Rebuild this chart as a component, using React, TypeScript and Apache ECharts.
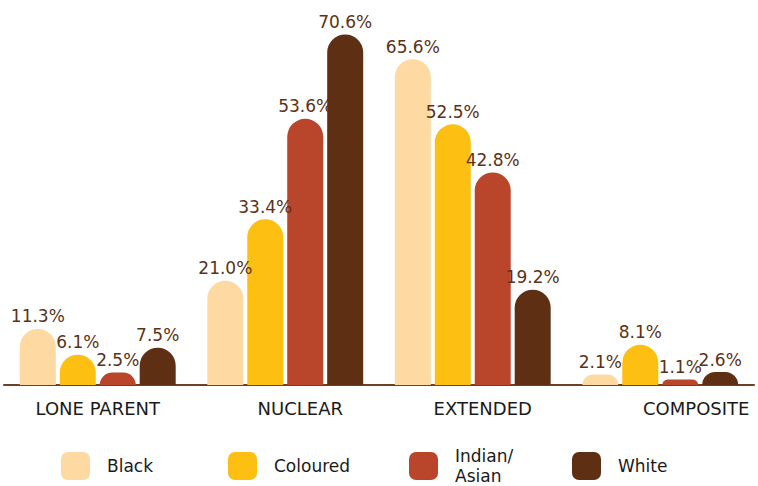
import React, { useEffect, useRef } from "react";
import * as echarts from "echarts";

const categories = ["LONE PARENT", "NUCLEAR", "EXTENDED", "COMPOSITE"];
const seriesNames = ["Black", "Coloured", "Indian/Asian", "White"];
const blackValues = [11.3, 21.0, 65.6, 2.1];
const colouredValues = [6.1, 33.4, 52.5, 8.1];
const indianAsianValues = [2.5, 53.6, 42.8, 1.1];
const whiteValues = [7.5, 70.6, 19.2, 2.6];
const seriesColors = ["#FED9A1", "#FDBF12", "#B9452A", "#5F2F14"];

const allValues = [blackValues, colouredValues, indianAsianValues, whiteValues];
const labelKeys = ["c0", "c1", "c2", "c3"];
const labelShift = [0, 30, 20, 72];
const legendLefts = [61, 228, 409, 572];

export default function App() {
  const ref = useRef<HTMLDivElement>(null);
  useEffect(() => {
    if (!ref.current) return;
    const chart = echarts.init(ref.current, undefined, { renderer: "svg" });
    const rich: Record<string, any> = {};
    labelKeys.forEach((k, i) => {
      rich[k] = {
        fontFamily: "DejaVu Sans",
        fontSize: 18,
        color: "#1a1a1a",
        padding: [0, 0, 0, labelShift[i]],
      };
    });
    chart.setOption({
      animation: false,
      grid: { left: 4, right: 4, top: 17.5, bottom: 101, containLabel: false },
      legend: seriesNames.map((name, i) => ({
        data: [name],
        left: legendLefts[i],
        top: name === "Indian/Asian" ? 446 : 452,
        padding: 0,
        icon: "roundRect",
        itemWidth: 29,
        itemHeight: 28,
        itemGap: 0,
        selectedMode: false,
        formatter: (n: string) => (n === "Indian/Asian" ? "Indian/\nAsian" : n),
        textStyle: {
          fontFamily: "DejaVu Sans",
          fontSize: 17,
          color: "#1a1a1a",
          lineHeight: 20,
          padding: [0, 0, 0, 12],
        },
      })),
      xAxis: {
        type: "category",
        data: categories,
        axisLine: { show: true, lineStyle: { color: "#6b4226", width: 2 } },
        axisTick: { show: false },
        axisLabel: {
          margin: 14,
          formatter: (v: string) => {
            const i = categories.indexOf(v);
            return `{${labelKeys[i]}|${v}}`;
          },
          rich,
        },
      },
      yAxis: {
        type: "value",
        min: 0,
        max: 74,
        show: false,
        splitLine: { show: false },
      },
      series: seriesNames.map((name, i) => ({
        name,
        type: "bar",
        data: allValues[i],
        barWidth: 36,
        barGap: "11%",
        itemStyle: { color: seriesColors[i], borderRadius: [18, 18, 0, 0] },
        label: {
          show: true,
          position: "top",
          distance: 4,
          formatter: (p: any) => `${p.value.toFixed(1)}%`,
          fontFamily: "DejaVu Sans",
          fontSize: 17,
          color: "#5A3218",
        },
      })),
    });
    return () => chart.dispose();
  }, []);
  return (
    <div
      ref={ref}
      style={{ position: "fixed", left: 0, top: 0, width: 758, height: 486, background: "#fff" }}
    />
  );
}
